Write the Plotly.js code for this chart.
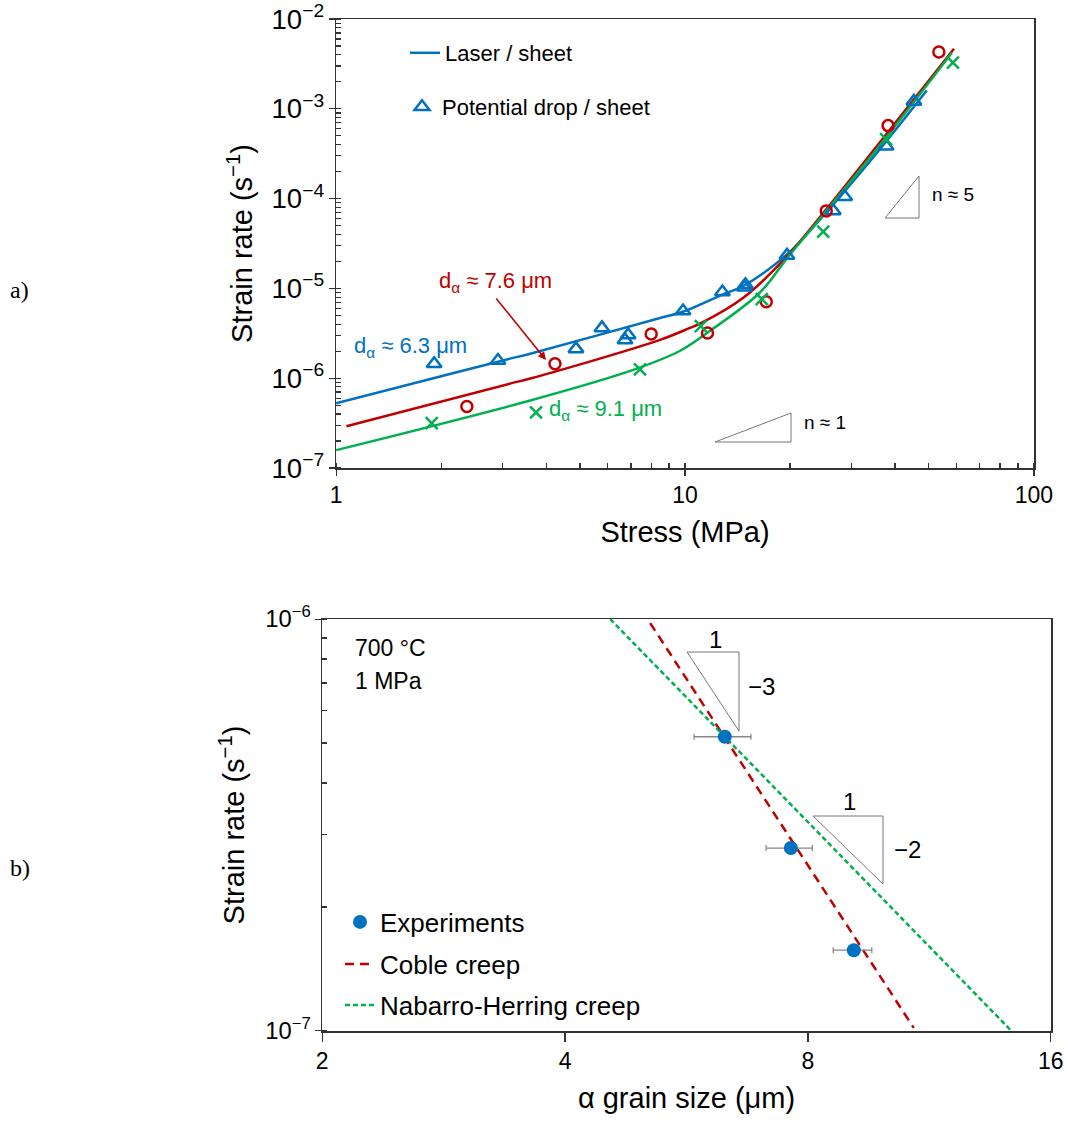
<!DOCTYPE html>
<html>
<head>
<meta charset="utf-8">
<script src="https://cdn.plot.ly/plotly-3.0.1.min.js"></script>
<style>html,body{margin:0;padding:0;background:#fff;}#chart{width:1066px;height:1121px;}</style>
</head>
<body>
<div id="chart"></div>
<script>
// ---------- Panel a) data ----------
const laserStress = [1.0, 2.0, 3.15, 3.6, 8.48, 9.87, 12.85, 14.66, 19.6, 25.5, 36.2, 49.3];
const laserRate   = [5.24e-7, 1.05e-6, 1.65e-6, 1.87e-6, 4.68e-6, 5.5e-6, 8.6e-6, 1.06e-5, 2.39e-5, 7.15e-5, 3.56e-4, 1.6e-3];
const fit76Stress = [1.07, 3.15, 3.6, 8.48, 10.33, 11.0, 14.66, 19.6, 25.2, 36.2, 59.0];
const fit76Rate   = [2.92e-7, 8.7e-7, 9.9e-7, 2.67e-6, 3.63e-6, 4.02e-6, 7.8e-6, 2.27e-5, 7.33e-5, 4.25e-4, 4.66e-3];
const fit91Stress = [1.0, 3.6, 7.28, 9.68, 11.8, 16.4, 19.6, 24.9, 35.5, 58.2];
const fit91Rate   = [1.58e-7, 5.65e-7, 1.28e-6, 2.02e-6, 3.37e-6, 9.0e-6, 2.16e-5, 6.62e-5, 3.56e-4, 4.21e-3];
const pdStress = [1.91, 2.91, 4.87, 5.78, 6.73, 6.87, 9.87, 12.8, 14.8, 14.9, 19.6, 26.6, 28.7, 37.7, 45.3];
const pdRate   = [1.45e-6, 1.57e-6, 2.12e-6, 3.63e-6, 2.67e-6, 3.03e-6, 5.6e-6, 9.1e-6, 1.03e-5, 1.1e-5, 2.33e-5, 7.3e-5, 1.05e-4, 3.84e-4, 1.21e-3];
const circStress = [2.37, 4.24, 8.0, 11.6, 17.1, 25.4, 38.2, 53.4];
const circRate   = [4.85e-7, 1.45e-6, 3.11e-6, 3.19e-6, 7.1e-6, 7.3e-5, 6.5e-4, 4.3e-3];
const crossStress = [1.88, 3.74, 7.43, 11.1, 16.6, 24.9, 37.7, 58.6];
const crossRate   = [3.15e-7, 4.17e-7, 1.25e-6, 3.8e-6, 7.6e-6, 4.3e-5, 4.6e-4, 3.26e-3];

// ---------- Panel b) data ----------
const grainSize = [6.31, 7.62, 9.12];
const grainErrPlus = [0.49, 0.48, 0.48];
const grainErrMinus = [0.53, 0.52, 0.52];
const expRate = [5.18e-7, 2.78e-7, 1.57e-7];
const cobleGrain = [5.10, 10.82];
const cobleRate = [9.78e-7, 1.017e-7];
const nhGrain = [4.55, 14.3];
const nhRate = [1.0e-6, 1.0e-7];
const grainTicks = [2, 4, 8, 16];

const BLUE = '#0070C0', RED = '#C00000', GREEN = '#00B050', AX = '#333333';
const FONT = 'Liberation Sans, Arial, sans-serif';
const W = 1066, H = 1121;
const X = p => p / W, Y = p => 1 - p / H;

const traces = [
  {x: laserStress, y: laserRate, type: 'scatter', mode: 'lines', line: {color: BLUE, width: 2.5, shape: 'spline'},
   name: 'Laser / sheet', legend: 'legend', xaxis: 'x', yaxis: 'y'},
  {x: fit76Stress, y: fit76Rate, type: 'scatter', mode: 'lines', line: {color: RED, width: 2.5, shape: 'spline'},
   showlegend: false, xaxis: 'x', yaxis: 'y'},
  {x: fit91Stress, y: fit91Rate, type: 'scatter', mode: 'lines', line: {color: GREEN, width: 2.5, shape: 'spline'},
   showlegend: false, xaxis: 'x', yaxis: 'y'},
  {x: pdStress, y: pdRate, type: 'scatter', mode: 'markers',
   marker: {symbol: 'triangle-up-open', size: 13, color: BLUE, line: {width: 2.5, color: BLUE}},
   name: 'Potential drop / sheet', legend: 'legend2', xaxis: 'x', yaxis: 'y'},
  {x: circStress, y: circRate, type: 'scatter', mode: 'markers',
   marker: {symbol: 'circle-open', size: 11, color: RED, line: {width: 2.5, color: RED}},
   showlegend: false, xaxis: 'x', yaxis: 'y'},
  {x: crossStress, y: crossRate, type: 'scatter', mode: 'markers',
   marker: {symbol: 'x-thin-open', size: 12, color: GREEN, line: {width: 2.5, color: GREEN}},
   showlegend: false, xaxis: 'x', yaxis: 'y'},

  {x: cobleGrain, y: cobleRate, type: 'scatter', mode: 'lines', line: {color: RED, width: 2.5, dash: '9px,6px'},
   name: 'Coble creep', legend: 'legend4', xaxis: 'x2', yaxis: 'y2'},
  {x: nhGrain, y: nhRate, type: 'scatter', mode: 'lines', line: {color: GREEN, width: 2.5, dash: '5px,3px'},
   name: 'Nabarro-Herring creep', legend: 'legend5', xaxis: 'x2', yaxis: 'y2'},
  {x: grainSize, y: expRate, type: 'scatter', mode: 'markers',
   marker: {symbol: 'circle', size: 14, color: BLUE},
   error_x: {type: 'data', symmetric: false, array: grainErrPlus, arrayminus: grainErrMinus, color: '#888888', thickness: 1.3, width: 3},
   name: 'Experiments', legend: 'legend3', xaxis: 'x2', yaxis: 'y2'}
];

const tickFont = {family: FONT, size: 23, color: '#000'};
const titleFont = {family: FONT, size: 29, color: '#000'};
function axisBase() {
  return {showline: true, linecolor: AX, linewidth: 1.5, mirror: true, showgrid: false, zeroline: false,
          ticks: 'outside', ticklen: 6, tickcolor: AX, tickwidth: 1.2, tickfont: tickFont, ticklabeloverflow: 'allow'};
}

const layout = {
  width: W, height: H, margin: {l: 0, r: 0, t: 0, b: 0},
  paper_bgcolor: '#fff', plot_bgcolor: '#fff', font: {family: FONT, color: '#000'},
  xaxis: Object.assign(axisBase(), {type: 'log', range: [-0.0003, 2.0003], dtick: 1, domain: [X(336), X(1034)], anchor: 'y',
    minor: {ticks: 'inside', ticklen: 5, dtick: 'D1', tickcolor: AX, showgrid: false},
    title: {text: 'Stress (MPa)', font: titleFont, standoff: 14}}),
  yaxis: Object.assign(axisBase(), {type: 'log', range: [-7.0003, -1.9997], dtick: 1, exponentformat: 'power', domain: [Y(468), Y(19)], anchor: 'x',
    tickfont: {family: FONT, size: 22, color: '#000'},
    minor: {ticks: 'inside', ticklen: 5, dtick: 'D1', tickcolor: AX, showgrid: false},
    title: {text: 'Strain rate (s<sup>−1</sup>)', font: titleFont, standoff: 10}}),
  xaxis2: Object.assign(axisBase(), {type: 'log', range: [Math.log10(2) - 0.0003, Math.log10(16) + 0.0003], tickmode: 'array', tickvals: grainTicks,
    ticktext: grainTicks.map(String), ticklen: 9, domain: [X(322), X(1051)], anchor: 'y2',
    title: {text: 'α grain size (μm)', font: titleFont, standoff: 14}}),
  yaxis2: Object.assign(axisBase(), {type: 'log', range: [-7.0003, -5.9997], dtick: 1, exponentformat: 'power', domain: [Y(1031), Y(619)], anchor: 'x2',
    tickfont: {family: FONT, size: 19, color: '#000'},
    minor: {ticks: 'inside', ticklen: 5, dtick: 'D1', tickcolor: AX, showgrid: false},
    title: {text: 'Strain rate (s<sup>−1</sup>)', font: titleFont, standoff: 12}}),
  legend:  {x: X(405), y: Y(53), xanchor: 'left', yanchor: 'middle', bgcolor: 'rgba(0,0,0,0)', borderwidth: 0, font: {family: FONT, size: 22, color: '#000'}},
  legend2: {x: X(402), y: Y(107), xanchor: 'left', yanchor: 'middle', bgcolor: 'rgba(0,0,0,0)', borderwidth: 0, font: {family: FONT, size: 22, color: '#000'}},
  legend3: {x: X(340), y: Y(922), xanchor: 'left', yanchor: 'middle', bgcolor: 'rgba(0,0,0,0)', borderwidth: 0, font: {family: FONT, size: 26, color: '#000'}},
  legend4: {x: X(340), y: Y(964), xanchor: 'left', yanchor: 'middle', bgcolor: 'rgba(0,0,0,0)', borderwidth: 0, font: {family: FONT, size: 26, color: '#000'}},
  legend5: {x: X(340), y: Y(1005), xanchor: 'left', yanchor: 'middle', bgcolor: 'rgba(0,0,0,0)', borderwidth: 0, font: {family: FONT, size: 26, color: '#000'}},
  shapes: [
    {type: 'path', xref: 'paper', yref: 'paper', path: `M ${X(885)} ${Y(218)} L ${X(919)} ${Y(218)} L ${X(919)} ${Y(176)} Z`, line: {color: '#777', width: 1}},
    {type: 'path', xref: 'paper', yref: 'paper', path: `M ${X(715)} ${Y(442)} L ${X(791)} ${Y(442)} L ${X(791)} ${Y(413)} Z`, line: {color: '#777', width: 1}},
    {type: 'path', xref: 'paper', yref: 'paper', path: `M ${X(687)} ${Y(652)} L ${X(739)} ${Y(652)} L ${X(739)} ${Y(731)} Z`, line: {color: '#777', width: 1}},
    {type: 'path', xref: 'paper', yref: 'paper', path: `M ${X(813)} ${Y(816)} L ${X(883)} ${Y(816)} L ${X(883)} ${Y(884)} Z`, line: {color: '#777', width: 1}}
  ],
  annotations: [
    {xref: 'paper', yref: 'paper', x: X(352), y: Y(347), xanchor: 'left', yanchor: 'middle', showarrow: false,
     text: 'd<sub>α</sub> ≈ 6.3 μm', font: {family: FONT, size: 22, color: BLUE}},
    {xref: 'paper', yref: 'paper', x: X(437), y: Y(282), xanchor: 'left', yanchor: 'middle', showarrow: false,
     text: 'd<sub>α</sub> ≈ 7.6 μm', font: {family: FONT, size: 22, color: RED}},
    {xref: 'paper', yref: 'paper', x: X(547), y: Y(410), xanchor: 'left', yanchor: 'middle', showarrow: false,
     text: 'd<sub>α</sub> ≈ 9.1 μm', font: {family: FONT, size: 22, color: GREEN}},
    {xref: 'paper', yref: 'paper', x: X(546), y: Y(360), ax: -51, ay: -63, text: '', showarrow: true,
     arrowhead: 2, arrowsize: 1, arrowwidth: 1.6, arrowcolor: RED},
    {xref: 'paper', yref: 'paper', x: X(930), y: Y(195), xanchor: 'left', yanchor: 'middle', showarrow: false,
     text: 'n ≈ 5', font: {family: FONT, size: 19, color: '#000'}},
    {xref: 'paper', yref: 'paper', x: X(802), y: Y(422), xanchor: 'left', yanchor: 'middle', showarrow: false,
     text: 'n ≈ 1', font: {family: FONT, size: 19, color: '#000'}},
    {xref: 'paper', yref: 'paper', x: X(353), y: Y(648), xanchor: 'left', yanchor: 'middle', showarrow: false,
     text: '700 °C', font: {family: FONT, size: 23, color: '#000'}},
    {xref: 'paper', yref: 'paper', x: X(353), y: Y(681), xanchor: 'left', yanchor: 'middle', showarrow: false,
     text: '1 MPa', font: {family: FONT, size: 23, color: '#000'}},
    {xref: 'paper', yref: 'paper', x: X(715), y: Y(639), xanchor: 'center', yanchor: 'middle', showarrow: false,
     text: '1', font: {family: FONT, size: 24, color: '#000'}},
    {xref: 'paper', yref: 'paper', x: X(746), y: Y(686), xanchor: 'left', yanchor: 'middle', showarrow: false,
     text: '−3', font: {family: FONT, size: 24, color: '#000'}},
    {xref: 'paper', yref: 'paper', x: X(849), y: Y(801), xanchor: 'center', yanchor: 'middle', showarrow: false,
     text: '1', font: {family: FONT, size: 24, color: '#000'}},
    {xref: 'paper', yref: 'paper', x: X(892), y: Y(849), xanchor: 'left', yanchor: 'middle', showarrow: false,
     text: '−2', font: {family: FONT, size: 24, color: '#000'}},
    {xref: 'paper', yref: 'paper', x: X(8), y: Y(290), xanchor: 'left', yanchor: 'middle', showarrow: false,
     text: 'a)', font: {family: 'Liberation Serif, Times New Roman, serif', size: 24, color: '#000'}},
    {xref: 'paper', yref: 'paper', x: X(8), y: Y(868), xanchor: 'left', yanchor: 'middle', showarrow: false,
     text: 'b)', font: {family: 'Liberation Serif, Times New Roman, serif', size: 24, color: '#000'}}
  ]
};

Plotly.newPlot('chart', traces, layout, {staticPlot: true, displayModeBar: false});
</script>
</body>
</html>
